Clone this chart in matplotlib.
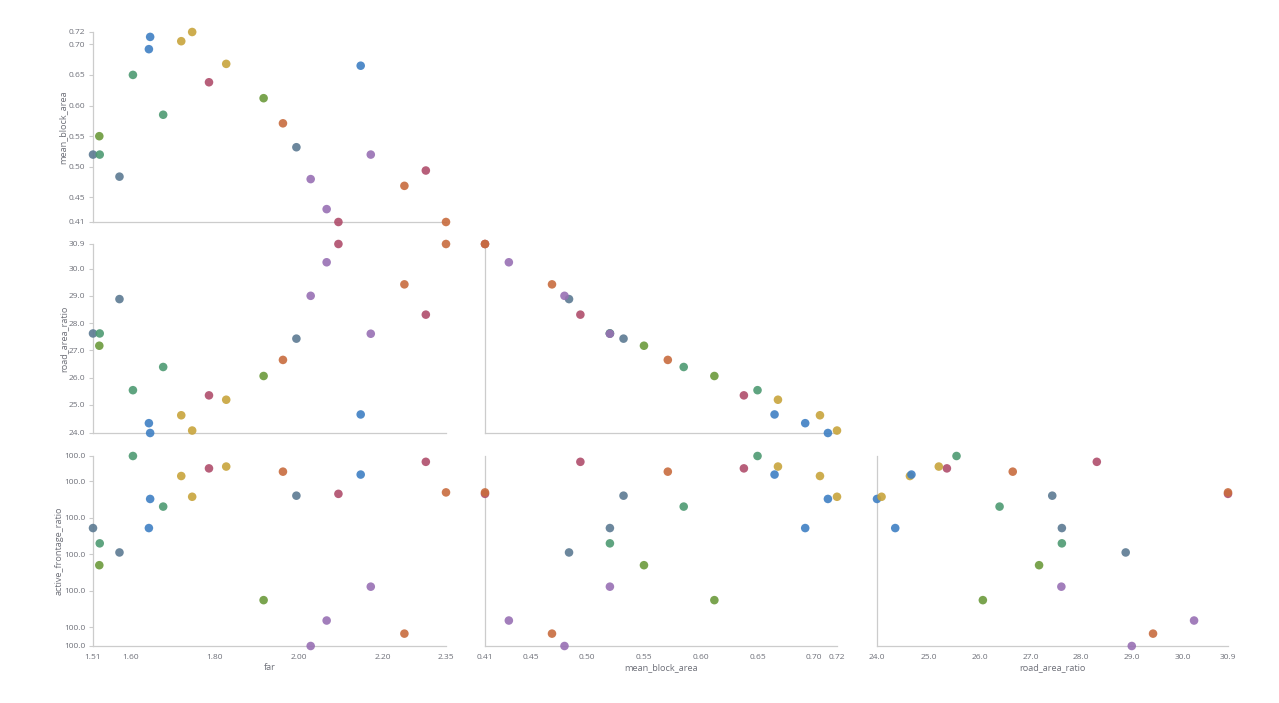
import matplotlib
matplotlib.use("Agg")
import matplotlib.pyplot as plt
import numpy as np

# ---- data (one entry per observation) ----
far = [1.51, 1.526, 1.525, 1.573, 1.605, 1.643, 1.646, 1.677, 1.72, 1.746, 1.786, 1.827,
       1.916, 1.962, 1.994, 2.028, 2.066, 2.094, 2.147, 2.171, 2.251, 2.302, 2.35]
mean_block_area = [0.52, 0.52, 0.55, 0.484, 0.65, 0.692, 0.712, 0.585, 0.705, 0.72, 0.638, 0.668,
                   0.612, 0.571, 0.532, 0.48, 0.431, 0.41, 0.665, 0.52, 0.469, 0.494, 0.41]
road_area_ratio = [27.62, 27.62, 27.17, 28.88, 25.54, 24.33, 23.97, 26.39, 24.62, 24.06, 25.35, 25.19,
                   26.06, 26.65, 27.43, 29.0, 30.23, 30.9, 24.65, 27.61, 29.42, 28.31, 30.9]
active_frontage_ratio = [100.0072, 100.0030, 99.9970, 100.0005, 100.0270, 100.0072, 100.0152, 100.0131,
                         100.0215, 100.0158, 100.0236, 100.0241, 99.9874, 100.0227, 100.0161, 99.9748,
                         99.9818, 100.0166, 100.0219, 99.9911, 99.9782, 100.0254, 100.0170]
group = ['C2', 'C3', 'C4', 'C2', 'C3', 'C1', 'C1', 'C3', 'C5', 'C5', 'C6', 'C5',
         'C4', 'C7', 'C2', 'C8', 'C8', 'C6', 'C1', 'C8', 'C7', 'C6', 'C7']

variables = ['far', 'mean_block_area', 'road_area_ratio', 'active_frontage_ratio']
data = {'far': far, 'mean_block_area': mean_block_area,
        'road_area_ratio': road_area_ratio, 'active_frontage_ratio': active_frontage_ratio}
tick_steps = {'far': 0.2, 'mean_block_area': 0.05, 'road_area_ratio': 1.0, 'active_frontage_ratio': 0.01}
tick_fmt = {'far': '{:.2f}', 'mean_block_area': '{:.2f}', 'road_area_ratio': '{:.1f}',
            'active_frontage_ratio': '{:.1f}'}

palette = {'C1': '#3f80c4', 'C2': '#5c7a92', 'C3': '#4e9a72', 'C4': '#6c9a3c',
           'C5': '#c8a43c', 'C6': '#b04e6c', 'C7': '#c86c3e', 'C8': '#9870b4'}

W, H = 1279, 703
fig = plt.figure(figsize=(W / 100, H / 100), dpi=100)
fig.patch.set_facecolor('white')

col_px = [(93, 446), (485, 837), (877, 1228)]
row_px = [(32, 222), (244, 433), (456, 646)]
ylabel_x = [-0.072, -0.069, -0.0836]

AX_COLOR = '#cccccc'
TXT_COLOR = '#6e7079'
FONT = ['Open Sans', 'DejaVu Sans']


def ticks_for(var):
    vals = np.array(data[var])
    lo, hi = vals.min(), vals.max()
    step = tick_steps[var]
    start = np.ceil(lo / step - 1e-9) * step
    inner = np.arange(start, hi + 1e-12, step)
    span = hi - lo
    inner = [t for t in inner if (t - lo) > 0.03 * span and (hi - t) > 0.03 * span]
    return lo, hi, [lo] + list(inner) + [hi]


colors = [palette[g] for g in group]

for r in range(3):
    yvar = variables[r + 1]
    for c in range(r + 1):
        xvar = variables[c]
        x0, x1 = col_px[c]
        y0, y1 = row_px[r]
        ax = fig.add_axes([x0 / W, 1 - y1 / H, (x1 - x0) / W, (y1 - y0) / H])
        ax.set_facecolor('none')
        ax.scatter(data[xvar], data[yvar], c=colors, s=38, alpha=0.9,
                   linewidths=0, clip_on=False, zorder=3)
        xlo, xhi, xt = ticks_for(xvar)
        ylo, yhi, yt = ticks_for(yvar)
        ax.set_xlim(xlo, xhi)
        ax.set_ylim(ylo, yhi)
        for s in ['top', 'right']:
            ax.spines[s].set_visible(False)
        for s in ['left', 'bottom']:
            ax.spines[s].set_color(AX_COLOR)
            ax.spines[s].set_linewidth(0.9)
        # y axis
        if c == 0:
            ax.set_yticks(yt)
            ax.set_yticklabels([tick_fmt[yvar].format(t) for t in yt],
                               fontsize=6.0, color=TXT_COLOR, family=FONT)
            ax.tick_params(axis='y', length=3, width=0.8, color=AX_COLOR, pad=2.5)
            ax.set_ylabel(yvar, fontsize=6.6, color=TXT_COLOR, family=FONT)
            ax.yaxis.set_label_coords(ylabel_x[r], 0.5)
        else:
            ax.set_yticks([])
        # x axis
        if r == 2:
            ax.set_xticks(xt)
            ax.set_xticklabels([tick_fmt[xvar].format(t) for t in xt],
                               fontsize=6.0, color=TXT_COLOR, family=FONT)
            ax.tick_params(axis='x', length=0, pad=5.5)
            ax.set_xlabel(xvar, fontsize=6.6, color=TXT_COLOR, family=FONT)
            ax.xaxis.set_label_coords(0.5, -0.088)
        else:
            ax.set_xticks([])

fig.savefig('out.png', dpi=100, facecolor='white')
